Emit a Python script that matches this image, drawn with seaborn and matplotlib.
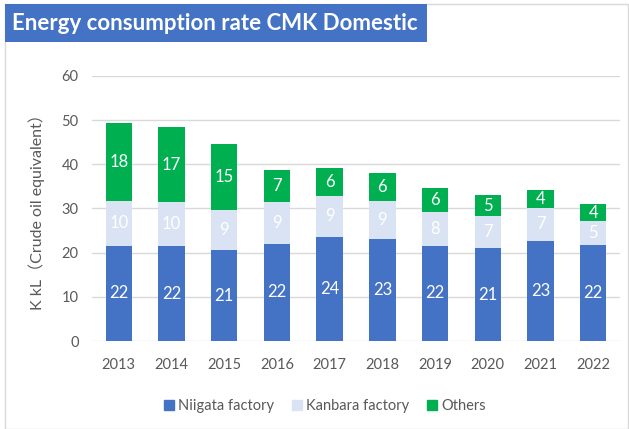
import pandas as pd
import matplotlib
matplotlib.use("Agg")
import matplotlib.pyplot as plt
import matplotlib.patches as mpatches
import seaborn as sns

# values (K kL, crude oil equivalent)
years = ["2013", "2014", "2015", "2016", "2017", "2018", "2019", "2020", "2021", "2022"]
niigata = [21.6, 21.5, 20.6, 22.0, 23.6, 23.0, 21.6, 21.0, 22.7, 21.8]
kanbara = [10.1, 9.9, 9.0, 9.4, 9.3, 8.7, 7.6, 7.3, 7.4, 5.3]
others = [17.7, 17.0, 15.1, 7.2, 6.2, 6.3, 5.5, 4.7, 4.1, 3.9]

series_names = ["Niigata factory", "Kanbara factory", "Others"]
colors = ["#4472C4", "#DAE3F3", "#00B050"]

df = pd.DataFrame({"Year": years, "Niigata": niigata, "Kanbara": kanbara, "Others": others})

sns.set_style("white")
plt.rcParams["font.family"] = ["Lato", "Noto Sans CJK JP", "DejaVu Sans"]

fig = plt.figure(figsize=(6.29, 4.29), dpi=100)
ax = fig.add_axes([0.147, 0.205, 0.838, 0.618])

bottom = [0.0] * len(years)
for col, name, c in zip(["Niigata", "Kanbara", "Others"], series_names, colors):
    sns.barplot(data=df, x="Year", y=col, color=c, width=0.5, errorbar=None,
                bottom=bottom, ax=ax, saturation=1, edgecolor="none")
    bottom = [b + v for b, v in zip(bottom, df[col])]

for cont in ax.containers:
    labels = [f"{v:.0f}" for v in cont.datavalues]
    ax.bar_label(cont, labels=labels, label_type="center", color="white", fontsize=12)

ax.set_ylim(0, 60)
ax.set_yticks(range(0, 61, 10))
ax.set_xlim(-0.5, len(years) - 0.5)
ax.set_xlabel("")
ax.set_ylabel("K kL（Crude oil equivalent）", fontsize=11.5, color="#595959", labelpad=12)
ax.yaxis.grid(True, color="#D9D9D9", linewidth=1)
ax.set_axisbelow(True)
for s in ax.spines.values():
    s.set_visible(False)
ax.tick_params(axis="both", length=0, labelsize=10.5, colors="#595959")
ax.tick_params(axis="x", pad=12)
ax.tick_params(axis="y", pad=10)

handles = [mpatches.Patch(color=c, label=n) for c, n in zip(colors, series_names)]
ax.legend(handles=handles, loc="center", bbox_to_anchor=(0.441, -0.245), ncol=3,
          frameon=False, fontsize=10.5, handlelength=0.7, handleheight=0.7,
          handletextpad=0.3, columnspacing=1.2, labelcolor="#595959")

# chart border and title box
fig.patches.append(mpatches.Rectangle((0.008, 0.0), 0.99, 0.991, transform=fig.transFigure,
                                      fill=False, edgecolor="#D9D9D9", linewidth=1))
fig.patches.append(mpatches.Rectangle((0.008, 0.902), 0.671, 0.089, transform=fig.transFigure,
                                      facecolor="#4472C4", edgecolor="none"))
fig.text(0.019, 0.946, "Energy consumption rate CMK Domestic", color="white",
         fontsize=16, fontweight="bold", va="center", ha="left")

fig.savefig("out.png", dpi=100)
